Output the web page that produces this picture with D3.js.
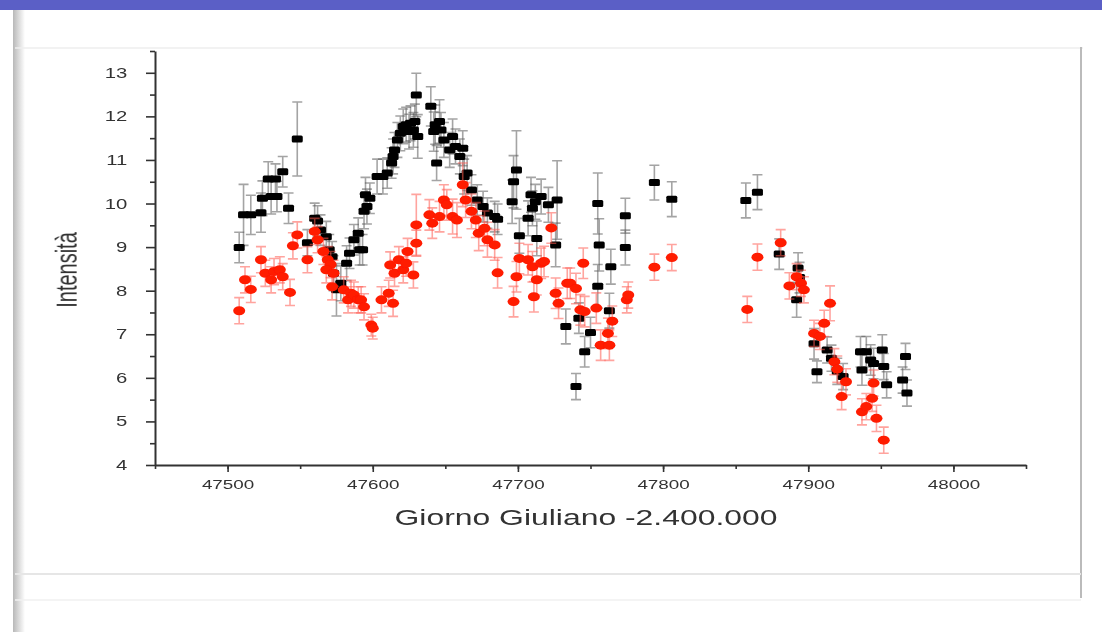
<!DOCTYPE html>
<html>
<head>
<meta charset="utf-8">
<script src="https://cdn.jsdelivr.net/npm/d3@7"></script>
<style>
  body { margin: 0; background: #fff; }
  svg { display: block; }
  text { font-family: "Liberation Sans", Arial, sans-serif; fill: #333; }
</style>
</head>
<body>
<div id="chart"></div>
<script>
// black series (squares)
const blackDay = [47508, 47511, 47516, 47523, 47524, 47528, 47530, 47533, 47534, 47538, 47542, 47548,
  47555, 47560, 47562, 47564, 47568, 47570, 47572, 47573, 47575, 47578, 47582, 47584, 47587, 47590,
  47591, 47593, 47594, 47595, 47596, 47598, 47603, 47607, 47610, 47613, 47614, 47615, 47617, 47619,
  47621, 47623, 47625, 47626, 47628, 47629, 47630, 47631, 47640, 47642, 47643, 47644, 47646, 47647,
  47649, 47653, 47655, 47657, 47660, 47662, 47663, 47665, 47668, 47672, 47676, 47679, 47684, 47686,
  47696, 47697, 47699, 47701, 47707, 47709, 47710, 47712, 47713, 47716, 47721, 47727, 47726, 47733,
  47740, 47742, 47746, 47750, 47755, 47756, 47755, 47763, 47764, 47774, 47774, 47794, 47806,
  47857, 47865, 47880, 47893, 47894, 47892, 47904, 47906, 47913, 47916, 47920, 47924, 47936, 47937,
  47940, 47943, 47945, 47951, 47952, 47954, 47965, 47967, 47968];
const blackVal = [8.99, 9.74, 9.74, 9.79, 10.12, 10.56, 10.16, 10.56, 10.16, 10.73, 9.89, 11.48,
  9.10, 9.66, 9.60, 9.39, 9.24, 8.94, 8.78, 8.40, 8.02, 8.17, 8.63, 8.86, 9.17, 9.32,
  8.94, 8.94, 9.82, 10.20, 9.93, 10.12, 10.62, 10.62, 10.70, 10.93, 11.08, 11.23, 11.46, 11.61,
  11.77, 11.81, 11.65, 11.84, 11.69, 11.88, 12.49, 11.54, 12.23, 11.65, 11.81, 10.93, 11.88, 11.69,
  11.46, 11.23, 11.54, 11.31, 11.08, 11.27, 10.62, 10.70, 10.31, 10.08, 9.93, 9.78, 9.70, 9.64,
  10.04, 10.50, 10.77, 9.26, 9.66, 10.20, 9.89, 10.04, 9.20, 10.16, 9.97, 10.08, 9.05, 7.18,
  5.80, 7.37, 6.60, 7.04, 10.00, 9.05, 8.10, 7.54, 8.55, 9.72, 8.99, 10.48, 10.10,
  10.07, 10.26, 8.84, 8.52, 8.30, 7.79, 6.78, 6.14, 6.64, 6.45, 6.15, 6.03, 6.60, 6.18,
  6.60, 6.41, 6.33, 6.64, 6.26, 5.84, 5.95, 6.49, 5.65];
const blackErr = [0.35, 0.7, 0.45, 0.45, 0.4, 0.4, 0.4, 0.35, 0.35, 0.35, 0.35, 0.85,
  0.3, 0.35, 0.35, 0.35, 0.35, 0.35, 0.35, 0.4, 0.6, 0.4, 0.4, 0.35, 0.35, 0.35,
  0.35, 0.35, 0.4, 0.4, 0.4, 0.35, 0.4, 0.4, 0.35, 0.35, 0.4, 0.4, 0.4, 0.4,
  0.4, 0.4, 0.4, 0.4, 0.4, 0.4, 0.5, 0.5, 0.45, 0.45, 0.45, 0.4, 0.5, 0.4,
  0.4, 0.4, 0.4, 0.4, 0.4, 0.4, 0.4, 0.4, 0.35, 0.35, 0.35, 0.35, 0.35, 0.35,
  0.5, 0.6, 0.9, 0.4, 0.4, 0.4, 0.4, 0.4, 0.4, 0.4, 0.4, 0.9, 0.5, 0.4,
  0.3, 0.35, 0.35, 0.35, 0.7, 0.6, 0.5, 0.4, 0.4, 0.4, 0.4, 0.4, 0.4,
  0.4, 0.4, 0.35, 0.35, 0.35, 0.4, 0.35, 0.25, 0.3, 0.3, 0.3, 0.3, 0.35, 0.35,
  0.35, 0.35, 0.35, 0.35, 0.3, 0.3, 0.3, 0.3, 0.3];

// red series (dots)
const redDay = [47508, 47512, 47516, 47523, 47526, 47530, 47532, 47536, 47538, 47543, 47545, 47548,
  47555, 47560, 47562, 47566, 47569, 47571, 47568, 47573, 47572, 47580, 47583, 47585, 47587, 47590,
  47592, 47594, 47599, 47600, 47606, 47611, 47614, 47612, 47615, 47618, 47621, 47623, 47624, 47628,
  47630, 47630, 47639, 47641, 47646, 47649, 47651, 47655, 47658, 47662, 47664, 47668, 47671, 47673,
  47677, 47679, 47684, 47686, 47697, 47699, 47701, 47707, 47710, 47711, 47713, 47716, 47718, 47723,
  47726, 47728, 47734, 47736, 47740, 47743, 47745, 47746, 47754, 47757, 47762, 47763, 47765, 47775,
  47776, 47794, 47806, 47858, 47865, 47881, 47887, 47892, 47895, 47897, 47904, 47908, 47911, 47915,
  47918, 47920, 47923, 47926, 47937, 47940, 47944, 47945, 47947, 47952];
const redVal = [7.54, 8.25, 8.03, 8.71, 8.40, 8.25, 8.44, 8.48, 8.32, 7.96, 9.03, 9.28,
  8.71, 9.36, 9.17, 8.90, 8.71, 8.60, 8.48, 8.40, 8.09, 8.02, 7.79, 7.94, 7.90, 7.79,
  7.79, 7.63, 7.21, 7.14, 7.79, 7.94, 7.71, 8.59, 8.40, 8.71, 8.48, 8.63, 8.90, 8.36,
  9.09, 9.51, 9.74, 9.55, 9.70, 10.08, 9.97, 9.70, 9.62, 10.43, 10.08, 9.82, 9.62, 9.32,
  9.43, 9.17, 9.05, 8.41, 7.75, 8.32, 8.74, 8.71, 8.55, 7.86, 8.25, 8.63, 8.67, 9.44,
  7.94, 7.71, 8.17, 8.17, 8.05, 7.56, 8.63, 7.52, 7.60, 6.75, 7.02, 6.75, 7.30, 7.79,
  7.90, 8.54, 8.76, 7.57, 8.77, 9.10, 8.11, 8.32, 8.17, 8.02, 7.02, 6.95, 7.25, 7.71,
  6.37, 6.20, 5.57, 5.91, 5.22, 5.34, 5.53, 5.88, 5.07, 4.57];
const redErr = [0.3, 0.3, 0.3, 0.3, 0.3, 0.3, 0.3, 0.3, 0.3, 0.3, 0.3, 0.3,
  0.3, 0.3, 0.3, 0.3, 0.3, 0.3, 0.3, 0.3, 0.3, 0.3, 0.3, 0.3, 0.3, 0.3,
  0.3, 0.3, 0.25, 0.25, 0.3, 0.3, 0.3, 0.3, 0.3, 0.3, 0.3, 0.3, 0.3, 0.3,
  0.3, 0.7, 0.35, 0.35, 0.35, 0.35, 0.35, 0.4, 0.4, 0.5, 0.4, 0.4, 0.4, 0.4,
  0.4, 0.4, 0.35, 0.35, 0.35, 0.35, 0.35, 0.35, 0.35, 0.35, 0.35, 0.35, 0.35, 0.35,
  0.35, 0.35, 0.35, 0.35, 0.35, 0.35, 0.35, 0.35, 0.35, 0.35, 0.35, 0.35, 0.35, 0.3,
  0.3, 0.3, 0.3, 0.3, 0.3, 0.3, 0.3, 0.3, 0.3, 0.3, 0.3, 0.3, 0.3, 0.4,
  0.3, 0.3, 0.3, 0.3, 0.3, 0.3, 0.3, 0.3, 0.3, 0.3];

const xTicks = [47500, 47600, 47700, 47800, 47900, 48000];
const yTicks = [4, 5, 6, 7, 8, 9, 10, 11, 12, 13];

const W = 1102, H = 632;
const stretch = 1.45;   // the slide is shown wider than drawn

const svg = d3.select("#chart").append("svg")
    .attr("width", W)
    .attr("height", H);

const defs = svg.append("defs");
defs.append("filter").attr("id", "soft")
    .append("feGaussianBlur").attr("stdDeviation", 0.6);
const grad = defs.append("linearGradient").attr("id", "edge");
grad.append("stop").attr("offset", 0).attr("stop-color", "#b8b8b8");
grad.append("stop").attr("offset", 1).attr("stop-color", "#fff");

// slide frame
svg.append("rect").attr("x", 0).attr("y", 0).attr("width", W).attr("height", 10).attr("fill", "#5b5fc6");
svg.append("rect").attr("x", 13).attr("y", 10).attr("width", 12).attr("height", H - 10).attr("fill", "url(#edge)");
svg.append("line").attr("x1", 15).attr("x2", 1083).attr("y1", 48).attr("y2", 48).attr("stroke", "#eee").attr("stroke-width", 1.5);
svg.append("line").attr("x1", 1081).attr("x2", 1081).attr("y1", 47).attr("y2", 598).attr("stroke", "#bbb").attr("stroke-width", 2);
svg.append("line").attr("x1", 15).attr("x2", 1081).attr("y1", 574).attr("y2", 574).attr("stroke", "#e6e6e6").attr("stroke-width", 2);
svg.append("line").attr("x1", 15).attr("x2", 1081).attr("y1", 600).attr("y2", 600).attr("stroke", "#f0f0f0").attr("stroke-width", 1.5);

const x = d3.scaleLinear().domain([47450, 48050]).range([155, 1026]);
const y = d3.scaleLinear().domain([4, 13.5]).range([465, 51]);

const plot = svg.append("g").attr("filter", "url(#soft)");

// minor ticks
plot.append("g")
    .attr("transform", "translate(0,465)")
    .call(d3.axisBottom(x).tickValues(d3.range(47450, 48051, 50)).tickSize(4).tickFormat(""))
    .call(g => g.select(".domain").remove());
plot.append("g")
    .attr("transform", "translate(155,0)")
    .call(d3.axisLeft(y).tickValues(d3.range(4.5, 13.6, 1)).tickSize(5).tickFormat(""))
    .call(g => g.select(".domain").remove());

// major axes
const xAxis = plot.append("g")
    .attr("transform", "translate(0,465)")
    .call(d3.axisBottom(x).tickValues(xTicks).tickFormat(d3.format("d"))
        .tickSize(7).tickSizeOuter(0).tickPadding(8));
const yAxis = plot.append("g")
    .attr("transform", "translate(155,0)")
    .call(d3.axisLeft(y).tickValues(yTicks).tickSize(9).tickSizeOuter(0).tickPadding(6));

plot.selectAll(".tick line").attr("stroke", "#333").attr("stroke-width", 1.6);
plot.selectAll(".domain").attr("stroke", "#333").attr("stroke-width", 2);

xAxis.selectAll("text")
    .attr("font-size", 13)
    .attr("font-family", "Liberation Sans, Arial, sans-serif")
    .attr("fill", "#333")
    .attr("transform", `scale(${stretch},1)`);
yAxis.selectAll("text")
    .attr("font-size", 14)
    .attr("font-family", "Liberation Sans, Arial, sans-serif")
    .attr("fill", "#333")
    .attr("transform", `translate(-6,0) scale(${stretch},1)`);

// axis titles
plot.append("text")
    .attr("transform", `translate(586,525) scale(${stretch},1)`)
    .attr("text-anchor", "middle")
    .attr("font-size", 22)
    .attr("fill", "#333")
    .text("Giorno Giuliano -2.400.000");

plot.append("text")
    .attr("transform", `translate(77,270) scale(${stretch},1) rotate(-90)`)
    .attr("text-anchor", "middle")
    .attr("font-size", 20)
    .attr("fill", "#333")
    .text("Intensità");

function drawSeries(days, vals, errs, barColor, markColor, shape) {
    const pts = days.map((d, i) => ({ d: d, v: vals[i], e: errs[i] }));
    const g = plot.append("g");
    const bars = g.append("g")
        .attr("stroke", barColor)
        .attr("stroke-width", 1.6)
        .attr("fill", "none");
    bars.selectAll("path")
        .data(pts)
        .enter()
        .append("path")
        .attr("d", p => {
            const cx = x(p.d), t = y(p.v + p.e), b = y(p.v - p.e);
            return `M${cx},${t}V${b}M${cx - 5},${t}H${cx + 5}M${cx - 5},${b}H${cx + 5}`;
        });
    if (shape === "rect") {
        g.selectAll("rect.mark")
            .data(pts)
            .enter()
            .append("rect")
            .attr("class", "mark")
            .attr("x", p => x(p.d) - 5.5)
            .attr("y", p => y(p.v) - 3.5)
            .attr("width", 11)
            .attr("height", 7)
            .attr("rx", 1.5)
            .attr("fill", markColor);
    } else {
        g.selectAll("ellipse.mark")
            .data(pts)
            .enter()
            .append("ellipse")
            .attr("class", "mark")
            .attr("cx", p => x(p.d))
            .attr("cy", p => y(p.v))
            .attr("rx", 6)
            .attr("ry", 4.5)
            .attr("fill", markColor);
    }
}

drawSeries(blackDay, blackVal, blackErr, "rgba(90,90,90,0.55)", "#000", "rect");
drawSeries(redDay, redVal, redErr, "rgba(255,90,80,0.55)", "#ff1a00", "ellipse");
</script>
</body>
</html>
